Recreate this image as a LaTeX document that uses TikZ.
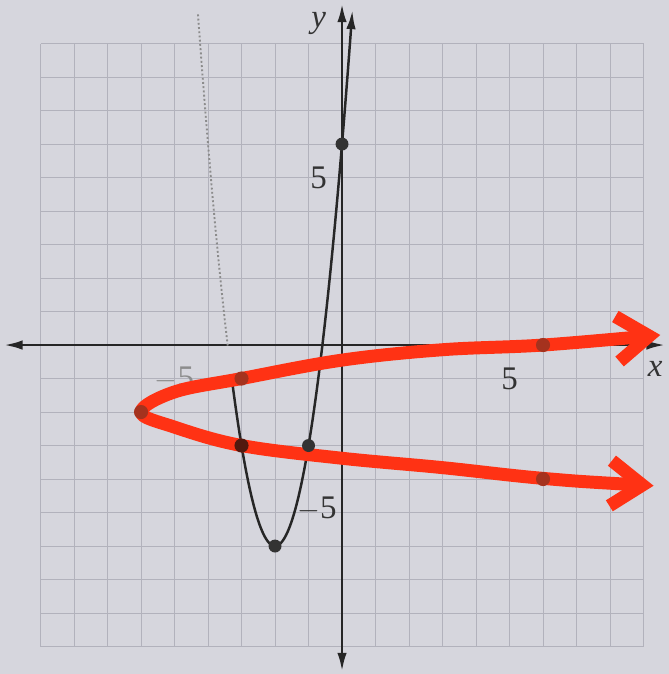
\documentclass[tikz,border=0pt]{standalone}
\usepackage{fontspec}
\setmainfont{Liberation Serif}
\usetikzlibrary{arrows.meta}
\definecolor{paper}{RGB}{214,214,221}
\definecolor{gridgray}{RGB}{178,178,188}
\definecolor{marker}{RGB}{255,50,20}
\definecolor{dotred}{RGB}{165,50,30}
\begin{document}
\begin{tikzpicture}[
    axis/.style={line width=2.4pt, black!85, {Latex[length=16pt,width=8pt]}-{Latex[length=16pt,width=8pt]}},
    curve/.style={line width=2.1pt, black!85},
    marker/.style={line width=11pt, color=marker, line cap=round, line join=round},
    bdot/.style={circle, fill=black!80, inner sep=0pt, minimum size=11pt},
    rdot/.style={circle, fill=dotred, inner sep=0pt, minimum size=12pt},
    lbl/.style={font=\fontsize{28}{30}\selectfont, text=black!80}
]
\useasboundingbox[fill=paper] (-10.21,-9.82) rectangle (9.76,10.30);
% griglia
\draw[gridgray, line width=0.8pt] (-9,-9) grid (9,9);

% assi
\coordinate (xleft) at (-10.1,0);
\coordinate (xright) at (9.65,0);
\coordinate (ybottom) at (0,-9.75);
\coordinate (ytop) at (0,10.2);
\draw[axis] (xleft) -- (xright);
\draw[axis] (ybottom) -- (ytop);
\node[lbl] (ylab) at (-0.7,9.6) {\textit{y}};
\node[lbl] (xlab) at (9.35,-0.7) {\textit{x}};
\node[lbl] (yfive) at (-0.7,5) {5};
\node[lbl] (yminus) at (-0.75,-4.9) {$-$5};
\node[lbl] (xfive) at (5,-1) {5};
\node[lbl, text=black!45] (xminus) at (-5,-1) {$-$5};

% parabola nera
\draw[black!45, line width=1.6pt, dotted] plot[domain=-4.3:-3.41, samples=40] (\x,{3*\x*\x+12*\x+6});
\draw[curve, -{Latex[length=16pt,width=8pt]}] plot[domain=-3.27:0.31, samples=120, smooth] (\x,{3*\x*\x+12*\x+6});

% parabola rossa
\draw[marker, {Straight Barb[length=0.95cm,width=1.35cm]}-{Straight Barb[length=0.95cm,width=1.35cm]}]
    plot[smooth, tension=0.6] coordinates {(9.3,-4.2) (6,-3.98) (3,-3.66) (0,-3.38) (-3,-3) (-5,-2.45)
    (-6,-2) (-5,-1.4) (-3,-1) (0,-0.45) (3,-0.14) (6,0) (9.5,0.3)};

% punti
\node[bdot] (p1) at (0,6) {};
\node[bdot] (p2) at (-1,-3) {};
\node[bdot] (p3) at (-2,-6) {};
\node[rdot] (q1) at (-3,-1) {};
\node[rdot] (q2) at (-6,-2) {};
\node[rdot, fill=black!50!dotred] (q3) at (-3,-3) {};
\node[rdot] (q4) at (6,0) {};
\node[rdot] (q5) at (6,-4) {};
\end{tikzpicture}
\end{document}
